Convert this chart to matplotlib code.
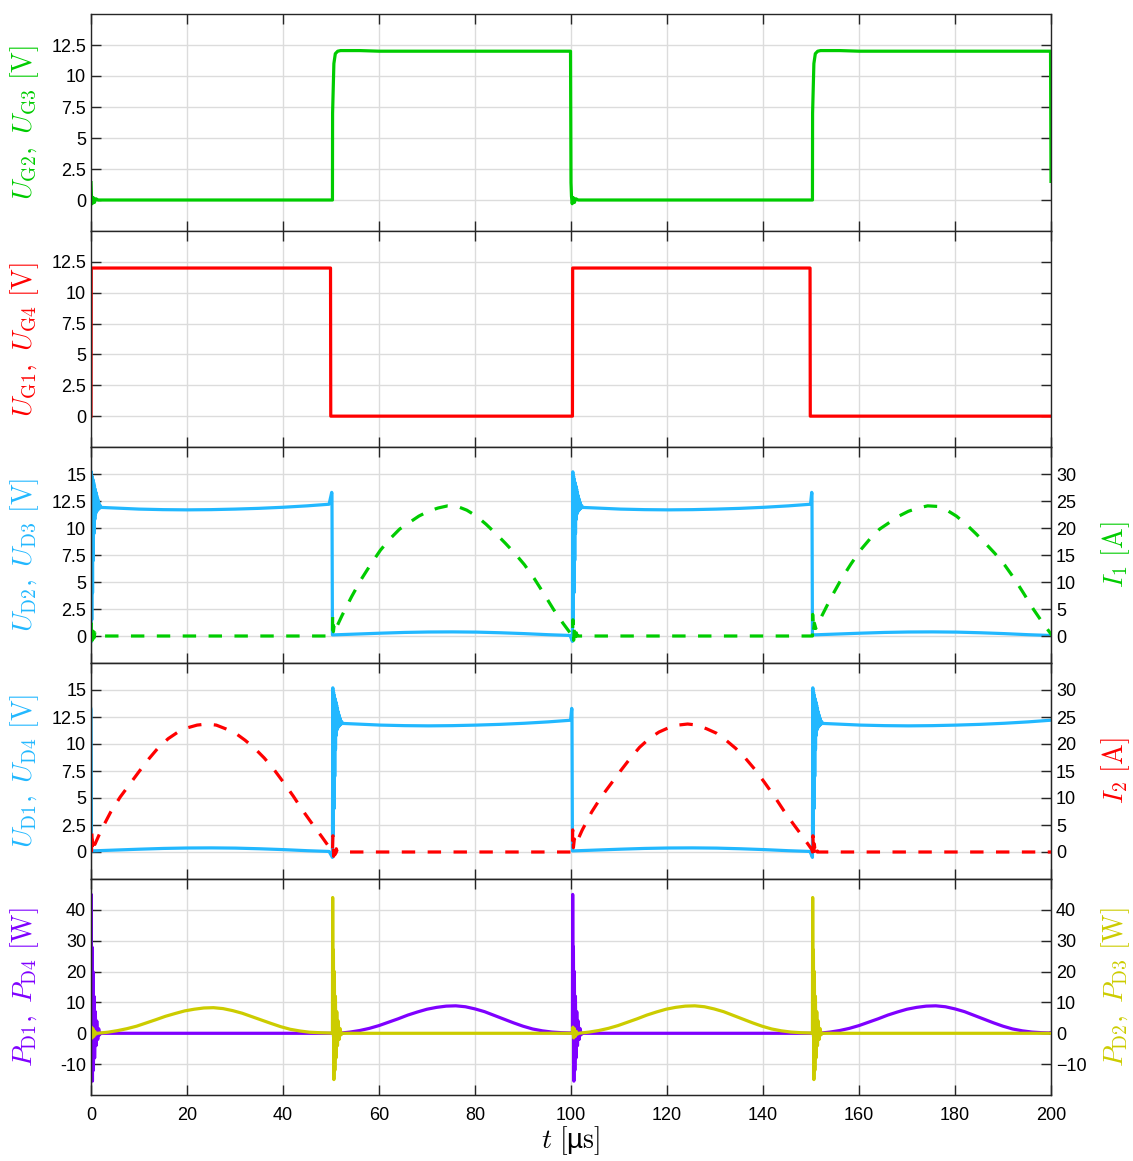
import numpy as np
import matplotlib
matplotlib.use("Agg")
import matplotlib.pyplot as plt

plt.rcParams["mathtext.fontset"] = "cm"
plt.rcParams["font.family"] = ["Liberation Sans", "DejaVu Sans"]

GREEN = "#00CC00"
RED = "#FF0000"
CYAN = "#22B8FF"
PURPLE = "#7F00FF"
YELLOW = "#CCCC00"

# ---------------------------------------------------------------- data [us]
x_ticks = [0, 20, 40, 60, 80, 100, 120, 140, 160, 180, 200]

# gate voltage G2/G3: switching transients (offset from edge, volts)
ug_fall_dt = [0.0, 0.1, 0.25, 0.45, 0.7, 1.0, 1.5, 2.0]
ug_fall_v = [1.4, 0.3, -0.3, 0.2, -0.2, 0.1, 0.0, 0.0]
ug_rise_dt = [0.0, 0.03, 0.3, 0.6, 1.1, 1.7, 5.7, 9.7, 29.7, 49.6]
ug_rise_v = [0.0, 7.0, 11.0, 11.8, 12.0, 12.05, 12.05, 12.0, 12.0, 12.0]
ug23_fall_times = [0.0, 100.0]
ug23_rise_times = [50.3, 150.3]
ug23_end = (200.0, 1.5)

# gate voltage G1/G4: ideal steps
ug14_t = [0.0, 0.05, 49.9, 49.95, 100.3, 100.35, 149.8, 149.85, 200.0]
ug14_v = [0.0, 12.0, 12.0, 0.0, 0.0, 12.0, 12.0, 0.0, 0.0]

# diode voltage at turn-off: ringing, then blocking plateau (offset, volts)
ud_ring_dt = [0.0, 0.08, 0.16, 0.24, 0.32, 0.40, 0.48, 0.56, 0.64, 0.72,
              0.80, 0.88, 0.96, 1.04, 1.12, 1.20, 1.30, 1.40, 1.50, 1.60,
              1.75, 1.90, 2.10, 2.40]
ud_ring_v = [-0.5, 15.2, 1.5, 14.8, 4.0, 14.5, 7.0, 14.2, 9.5, 13.9,
             10.8, 13.6, 11.3, 13.3, 11.5, 13.0, 11.6, 12.7, 11.7, 12.4,
             11.8, 12.1, 11.9, 11.9]
ud_plat_dt = [5, 10, 15, 20, 25, 30, 35, 40, 45, 49.6]
ud_plat_v = [11.85, 11.75, 11.7, 11.68, 11.7, 11.75, 11.82, 11.92, 12.05, 12.2]
# short overshoot just before conduction starts (offset from turn-on)
ud_on_dt = [-0.15, -0.1, 0.0]
ud_on_v = [13.3, 13.2, 0.1]
# forward drop while conducting (offset from turn-on)
ud_fwd_dt = [0, 5, 10, 15, 20, 25, 30, 35, 40, 45, 49.5]
ud_fwd_v = [0.1, 0.18, 0.26, 0.33, 0.37, 0.38, 0.36, 0.3, 0.22, 0.12, 0.05]

ud23_off_times = [0.0, 100.3]
ud23_on_times = [50.3, 150.3]
ud14_off_times = [50.3, 150.3]
ud14_on_times = [0.1, 100.3]

# branch currents (offset from commutation, amperes)
i_dt = [0.0, 0.05, 0.2, 0.4, 0.7, 1.0, 2, 4, 6, 8, 10, 12, 14, 16, 18, 20,
        22, 24, 26, 28, 30, 32, 34, 36, 38, 40, 42, 44, 46, 48, 50]
i1_v = [0.0, 4.0, 0.8, 2.4, 1.4, 1.9, 3.8, 7.3, 10.5, 13.3, 15.9, 18.0,
        19.8, 21.0, 22.2, 23.1, 23.7, 24.1, 24.0, 23.3, 22.2, 20.7, 19.0,
        17.2, 15.3, 13.2, 10.7, 7.9, 5.0, 2.4, 0.0]
i2_v = [0.0, 4.1, 0.8, 2.4, 1.4, 2.0, 4.0, 7.4, 10.2, 12.6, 15.0, 17.3,
        19.4, 21.0, 22.2, 23.0, 23.5, 23.7, 23.5, 22.8, 22.0, 20.7, 19.2,
        17.4, 15.3, 12.9, 10.4, 7.7, 5.2, 2.8, 0.3]
i_tail_dt = [0.0, 0.1, 0.25, 0.4, 0.6, 0.8, 1.0, 1.3]
i_tail_v = [0.0, 3.0, -0.8, 1.5, -0.4, 0.6, 0.0, 0.0]
i1_hump_times = [50.3, 150.3]
i1_tail_times = [0.0, 100.3]
i2_hump_times = [0.1, 100.3]
i2_tail_times = [50.3, 150.3]

# diode losses (offset, watts)
p_spike_dt = [0.0, 0.05, 0.12, 0.2, 0.3, 0.4, 0.5, 0.62, 0.75, 0.9, 1.05,
              1.2, 1.4, 1.6, 1.8, 2.0]
p14_spike_v = [0, 45, 5, 28, -15.5, 20, -12, 12, -8, 7, -4, 4, -2, 1.5, -0.5, 0]
p23_spike_v = [0, 44, 5, 27, -15, 20, -12, 12, -8, 7, -4, 4, -2, 1.5, -0.5, 0]
p_small_dt = [0.0, 0.1, 0.25, 0.4, 0.6, 0.8, 1.0, 1.3]
p_small_v = [0.0, 2.0, -1.5, 1.5, -1.0, 0.6, -0.3, 0.0]
p_bump_dt = [0, 2, 4, 6, 8, 10, 12, 14, 16, 18, 20, 22, 24, 26, 28, 30, 32,
             34, 36, 38, 40, 42, 44, 46, 48, 50]
p_bump_hi = [0, 0.4, 0.9, 1.6, 2.5, 3.6, 4.7, 5.9, 6.9, 7.8, 8.4, 8.8, 8.9,
             8.6, 7.9, 7.0, 5.8, 4.6, 3.4, 2.3, 1.4, 0.8, 0.4, 0.2, 0.1, 0]
p_bump_lo = [0, 0.35, 0.85, 1.5, 2.3, 3.35, 4.4, 5.5, 6.4, 7.25, 7.8, 8.2,
             8.3, 8.0, 7.35, 6.5, 5.4, 4.3, 3.2, 2.15, 1.3, 0.75, 0.35, 0.2,
             0.1, 0]


def assemble(pieces, t_end=None, v_end=None):
    """Join waveform pieces given as (start time, offsets, values)."""
    pieces = sorted(pieces, key=lambda p: p[0])
    t, v = [], []
    for t0, dts, vals in pieces:
        t.extend(t0 + d for d in dts)
        v.extend(vals)
    if t_end is not None:
        t.append(t_end)
        v.append(v_end)
    return np.array(t), np.array(v)


ug23 = assemble([(t0, ug_fall_dt, ug_fall_v) for t0 in ug23_fall_times] +
                [(t0, ug_rise_dt, ug_rise_v) for t0 in ug23_rise_times],
                *ug23_end)

def diode_voltage(off_times, on_times):
    pieces = []
    for t0 in off_times:
        pieces.append((t0, ud_ring_dt, ud_ring_v))
        pieces.append((t0, ud_plat_dt, ud_plat_v))
    for t0 in on_times:
        pieces.append((t0, ud_on_dt, ud_on_v))
        pieces.append((t0, ud_fwd_dt[1:], ud_fwd_v[1:]))
    return assemble(pieces)

ud23 = diode_voltage(ud23_off_times, ud23_on_times)
ud14 = diode_voltage(ud14_off_times, ud14_on_times)

def current(hump_times, tail_times, hump_v):
    pieces = [(t0, i_dt, hump_v) for t0 in hump_times]
    pieces += [(t0, i_tail_dt, i_tail_v) for t0 in tail_times]
    return assemble(pieces, 200.0, 0.0)

i1 = current(i1_hump_times, i1_tail_times, i1_v)
i2 = current(i2_hump_times, i2_tail_times, i2_v)

p14 = assemble([(0.0, p_spike_dt, p14_spike_v), (100.3, p_spike_dt, p14_spike_v),
                (50.3, p_small_dt, p_small_v), (52.0, p_bump_dt[1:], p_bump_hi[1:]),
                (150.3, p_small_dt, p_small_v), (152.0, p_bump_dt[1:], p_bump_hi[1:])],
               200.0, 0.0)
p23 = assemble([(0.0, p_small_dt, p_small_v), (1.5, p_bump_dt[1:], p_bump_lo[1:]),
                (50.3, p_spike_dt, p23_spike_v), (100.3, p_small_dt, p_small_v),
                (101.8, p_bump_dt[1:], p_bump_hi[1:]), (150.3, p_spike_dt, p23_spike_v)],
               200.0, 0.0)

# ---------------------------------------------------------------- figure
W, H = 1133, 1161
fig = plt.figure(figsize=(W / 100, H / 100), dpi=100)
left, right = 91, 1051
tops = [14, 231, 447, 663, 879, 1095]

LW = 2.3
DASH = (0, (4.2, 3.9))
TICK_FS = 13
LAB_FS = 20
GRID_C = "#DCDCDC"
FRAME_C = "#262626"

axes = []
for k in range(5):
    rect = [left / W, 1 - tops[k + 1] / H, (right - left) / W,
            (tops[k + 1] - tops[k]) / H]
    ax = fig.add_axes(rect)
    ax.set_xlim(0, 200)
    ax.set_xticks(x_ticks)
    ax.grid(True, color=GRID_C, linewidth=1.0)
    ax.set_axisbelow(True)
    ax.tick_params(direction="in", length=7, width=1, colors=FRAME_C,
                   labelsize=TICK_FS, labelcolor="black",
                   top=True, right=True, labelbottom=(k == 4))
    ax.tick_params(axis="x", pad=9)
    for s in ax.spines.values():
        s.set_color(FRAME_C)
        s.set_linewidth(1.0)
    axes.append(ax)


def twin(ax, lim, ticks, label, color):
    tw = ax.twinx()
    tw.set_ylim(*lim)
    tw.set_yticks(ticks)
    tw.tick_params(direction="in", length=7, width=1, colors=FRAME_C,
                   labelsize=TICK_FS, labelcolor="black")
    tw.set_ylabel(label, color=color, fontsize=LAB_FS, rotation=90,
                  va="center", ha="center")
    tw.yaxis.set_label_coords(1.067, 0.5)
    for s in tw.spines.values():
        s.set_color(FRAME_C)
    return tw


def fmt(vals):
    return [("%g" % v) for v in vals]

ug_ticks = [0, 2.5, 5, 7.5, 10, 12.5]
ud_ticks = [0, 2.5, 5, 7.5, 10, 12.5, 15]
i_ticks = [0, 5, 10, 15, 20, 25, 30]
p_ticks = [-10, 0, 10, 20, 30, 40]

# panel 1: G2/G3 gate drive
ax = axes[0]
ax.plot(*ug23, color=GREEN, lw=LW)
ax.set_ylim(-2.5, 15)
ax.set_yticks(ug_ticks, fmt(ug_ticks))
ax.set_ylabel(r"$U_{\mathrm{G2}},\ U_{\mathrm{G3}}\ [\mathrm{V}]$", color=GREEN, fontsize=LAB_FS)

# panel 2: G1/G4 gate drive
ax = axes[1]
ax.plot(ug14_t, ug14_v, color=RED, lw=LW)
ax.set_ylim(-2.5, 15)
ax.set_yticks(ug_ticks, fmt(ug_ticks))
ax.set_ylabel(r"$U_{\mathrm{G1}},\ U_{\mathrm{G4}}\ [\mathrm{V}]$", color=RED, fontsize=LAB_FS)

# panel 3: D2/D3 voltage and I1
ax = axes[2]
ax.plot(*ud23, color=CYAN, lw=LW)
ax.set_ylim(-2.5, 17.5)
ax.set_yticks(ud_ticks, fmt(ud_ticks))
ax.tick_params(right=False)
ax.set_ylabel(r"$U_{\mathrm{D2}},\ U_{\mathrm{D3}}\ [\mathrm{V}]$", color=CYAN, fontsize=LAB_FS)
tw = twin(ax, (-5, 35), i_ticks, r"$I_1\ [\mathrm{A}]$", GREEN)
tw.plot(*i1, color=GREEN, lw=LW, linestyle=DASH)

# panel 4: D1/D4 voltage and I2
ax = axes[3]
ax.plot(*ud14, color=CYAN, lw=LW)
ax.set_ylim(-2.5, 17.5)
ax.set_yticks(ud_ticks, fmt(ud_ticks))
ax.tick_params(right=False)
ax.set_ylabel(r"$U_{\mathrm{D1}},\ U_{\mathrm{D4}}\ [\mathrm{V}]$", color=CYAN, fontsize=LAB_FS)
tw = twin(ax, (-5, 35), i_ticks, r"$I_2\ [\mathrm{A}]$", RED)
tw.plot(*i2, color=RED, lw=LW, linestyle=DASH)

# panel 5: diode losses
ax = axes[4]
ax.plot(*p14, color=PURPLE, lw=LW)
ax.set_ylim(-20, 50)
ax.set_yticks(p_ticks, fmt(p_ticks))
ax.tick_params(right=False)
ax.set_ylabel(r"$P_{\mathrm{D1}},\ P_{\mathrm{D4}}\ [\mathrm{W}]$", color=PURPLE, fontsize=LAB_FS)
tw = twin(ax, (-20, 50), p_ticks, r"$P_{\mathrm{D2}},\ P_{\mathrm{D3}}\ [\mathrm{W}]$", YELLOW)
tw.plot(*p23, color=YELLOW, lw=LW)
ax.set_xlabel(r"$t\ [$µ$\mathrm{s}]$", fontsize=LAB_FS, va="center")
ax.xaxis.set_label_coords(0.5, -0.21)

for ax in axes:
    ax.yaxis.label.set_va("center")
    ax.yaxis.label.set_ha("center")
    ax.yaxis.set_label_coords(-0.069, 0.5)

fig.savefig("out.png", dpi=100)
